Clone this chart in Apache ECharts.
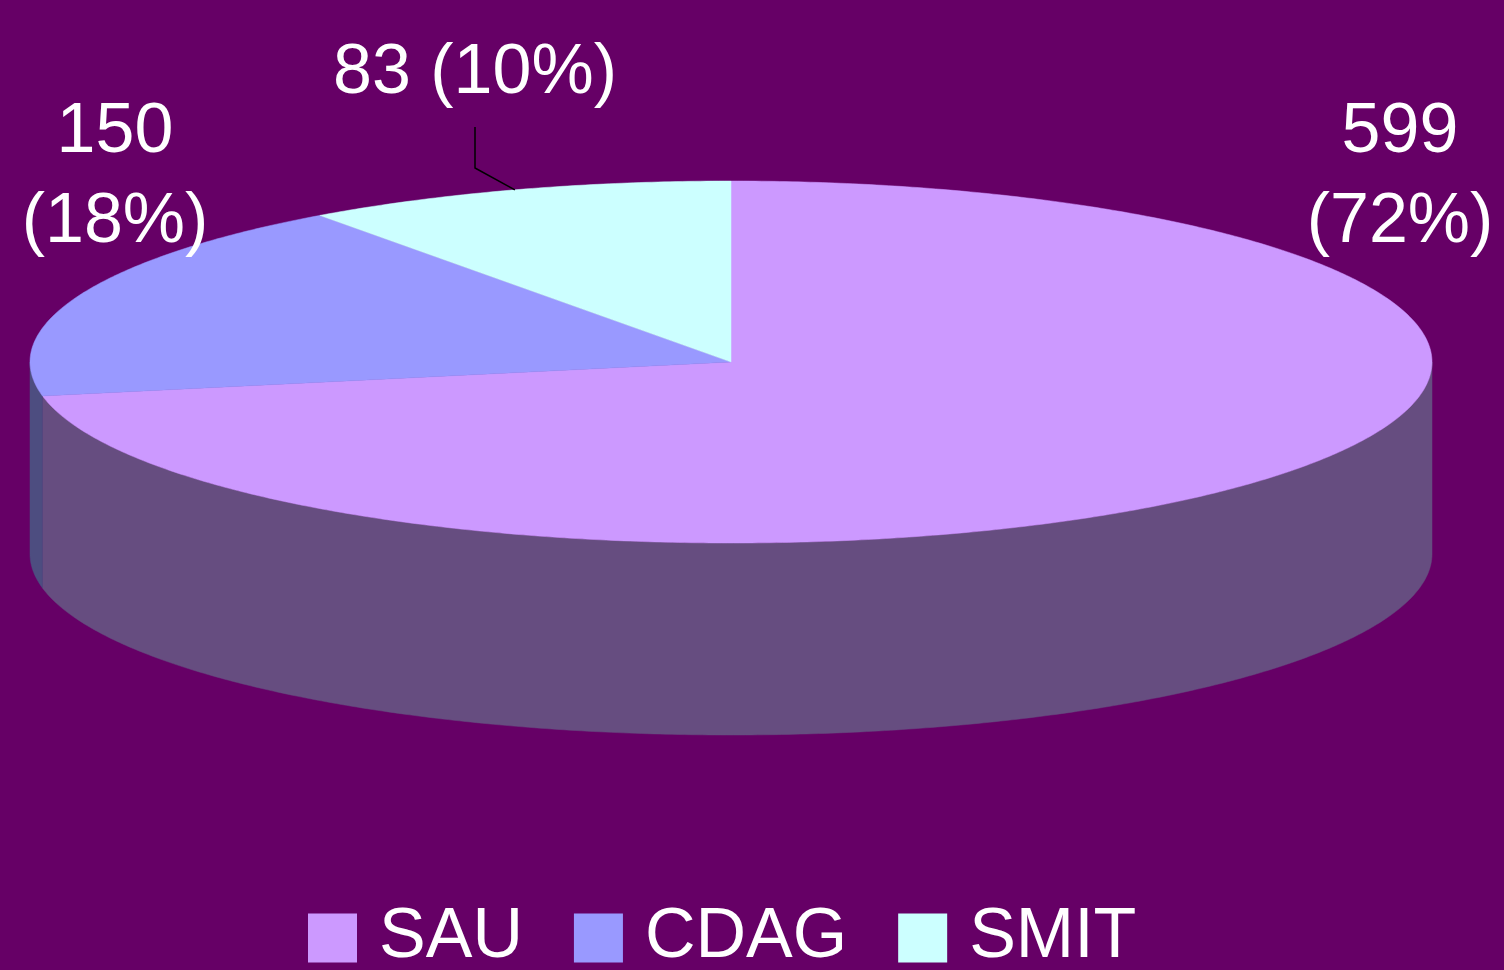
<!DOCTYPE html>
<html>
<head>
<meta charset="utf-8">
<script src="https://cdn.jsdelivr.net/npm/echarts@6/dist/echarts.min.js"></script>
<style>
html, body { margin: 0; padding: 0; background: #660066; }
#pie-chart { width: 1504px; height: 970px; }
</style>
</head>
<body>
<div id="pie-chart"></div>
<script>
var categories = ['SAU', 'CDAG', 'SMIT'];
var values = [599, 150, 83];

var sliceColors = ['#CC99FF', '#9999FF', '#CCFFFF'];
var FONT = '"Liberation Sans", Arial, sans-serif';

// flattened (3d look) pie geometry
var PIE = { cx: 731, cy: 362, rx: 701, ry: 181, depth: 192 };
// where each label sits, and how the value / percent are split
var labelLayout = [
    { x: 1400, y: 178, sep: '\n' },
    { x: 115, y: 178, sep: '\n' },
    { x: 475, y: 74, sep: ' ', leader: [[475, 127], [475, 168]] }
];

var total = 0;
for (var i = 0; i < values.length; i++) total += values[i];

function darken(hex, k) {
    var n = parseInt(hex.slice(1), 16);
    var r = Math.round(((n >> 16) & 255) * k);
    var g = Math.round(((n >> 8) & 255) * k);
    var b = Math.round((n & 255) * k);
    return 'rgb(' + r + ',' + g + ',' + b + ')';
}

function pt(a, dy) {
    return [PIE.cx + PIE.rx * Math.sin(a), PIE.cy - PIE.ry * Math.cos(a) + (dy || 0)];
}

function arc(a0, a1, dy) {
    var pts = [];
    var steps = Math.max(2, Math.ceil((a1 - a0) / (Math.PI / 360)));
    for (var s = 0; s <= steps; s++) {
        pts.push(pt(a0 + (a1 - a0) * s / steps, dy));
    }
    return pts;
}

function sliceRenderer(idx) {
    return function (params, api) {
        var v = api.value(0);
        var before = 0;
        for (var j = 0; j < idx; j++) before += values[j];
        var a0 = before / total * Math.PI * 2;
        var a1 = (before + v) / total * Math.PI * 2;
        var color = sliceColors[idx];
        var children = [];

        // front wall (only the part facing the viewer)
        var s = Math.max(a0, Math.PI / 2);
        var e = Math.min(a1, Math.PI * 1.5);
        if (s < e) {
            var wall = arc(s, e, 0).concat(arc(s, e, PIE.depth).reverse());
            children.push({
                type: 'polygon',
                shape: { points: wall },
                style: { fill: darken(color, 0.5), stroke: darken(color, 0.5), lineWidth: 0.5 }
            });
        }

        // top face
        children.push({
            type: 'polygon',
            shape: { points: [[PIE.cx, PIE.cy]].concat(arc(a0, a1, 0)) },
            style: { fill: color, stroke: color, lineWidth: 0.5 }
        });

        var lay = labelLayout[idx];
        var pct = Math.round(v / total * 100);
        children.push({
            type: 'text',
            style: {
                text: v + lay.sep + '(' + pct + '%)',
                x: lay.x,
                y: lay.y,
                fill: '#fff',
                fontSize: 70,
                fontFamily: FONT,
                lineHeight: 90,
                align: 'center',
                verticalAlign: 'middle'
            }
        });
        if (lay.leader) {
            children.push({
                type: 'polyline',
                shape: { points: lay.leader.concat([pt((a0 + a1) / 2, 0)]) },
                style: { stroke: '#000', lineWidth: 1.5, fill: null }
            });
        }
        return { type: 'group', children: children };
    };
}

var chart = echarts.init(document.getElementById('pie-chart'));
var series = [];
for (var k = 0; k < categories.length; k++) {
    series.push({
        name: categories[k],
        type: 'custom',
        coordinateSystem: 'none',
        itemStyle: { color: sliceColors[k] },
        renderItem: sliceRenderer(k),
        data: [[values[k]]],
        silent: true
    });
}

var option = {
    backgroundColor: '#660066',
    animation: false,
    legend: {
        data: categories,
        left: 308,
        top: 903,
        padding: 0,
        icon: 'rect',
        itemWidth: 49,
        itemHeight: 49,
        itemGap: 51,
        selectedMode: false,
        textStyle: {
            color: '#fff',
            fontSize: 70,
            fontFamily: FONT,
            padding: [0, 0, 0, 17]
        }
    },
    series: series
};
chart.setOption(option);
</script>
</body>
</html>
